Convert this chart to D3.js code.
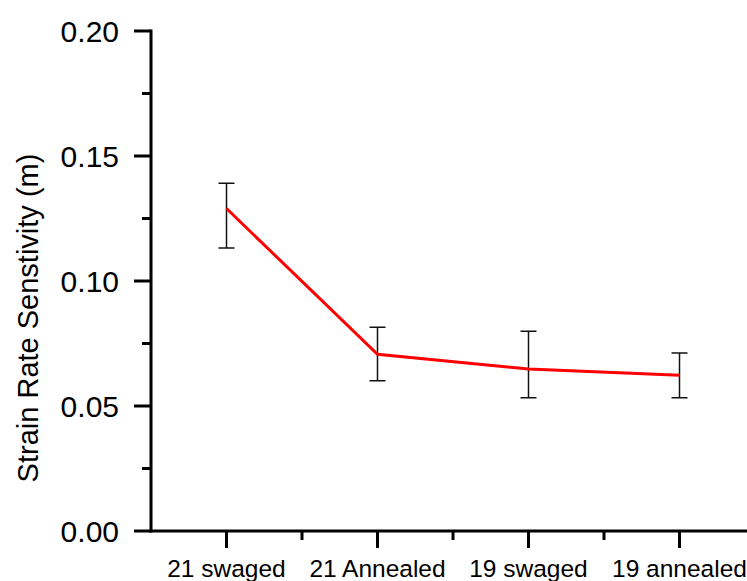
<!DOCTYPE html>
<meta charset="utf-8">
<style>
body { margin: 0; background: #fff; }
text { font-family: "Liberation Sans", Arial, sans-serif; fill: #000; }
</style>
<body>
<script src="https://d3js.org/d3.v7.min.js"></script>
<script>

var width = 747,
    height = 581;

// data
var samples = ["21 swaged", "21 Annealed", "19 swaged", "19 annealed"];
var mValues = [0.129, 0.0707, 0.0648, 0.0623];
var errTop = [0.1391, 0.0815, 0.0799, 0.0712];
var errBottom = [0.1132, 0.0601, 0.0533, 0.0533];
var yMajor = [0, 0.05, 0.10, 0.15, 0.20];
var yMinor = [0.025, 0.075, 0.125, 0.175];

var svg = d3.select("body").append("svg")
    .attr("width", width)
    .attr("height", height);

var x = d3.scaleLinear()
    .domain([0.5, 4.5])
    .range([151, 755]);

var y = d3.scaleLinear()
    .domain([0, 0.20])
    .range([531, 31]);

var xMajor = samples.map(function(d, i) { return i + 1; });
var xMinor = [1.5, 2.5, 3.5];

// y axis
var yAxis = svg.append("g").attr("transform", "translate(" + x(0.5) + ",0)");
yAxis.selectAll(".minor").data(yMinor).enter().append("line")
    .attr("x1", -9).attr("x2", 0)
    .attr("y1", function(d) { return y(d); }).attr("y2", function(d) { return y(d); })
    .attr("stroke", "#000").attr("stroke-width", 3);
yAxis.selectAll(".major").data(yMajor).enter().append("line")
    .attr("x1", -17).attr("x2", 0)
    .attr("y1", function(d) { return y(d); }).attr("y2", function(d) { return y(d); })
    .attr("stroke", "#000").attr("stroke-width", 3);
yAxis.selectAll("text").data(yMajor).enter().append("text")
    .attr("x", -32)
    .attr("y", function(d) { return y(d); })
    .attr("dy", "0.36em")
    .attr("text-anchor", "end")
    .style("font-size", "30px")
    .text(d3.format(".2f"));
yAxis.append("line")
    .attr("x1", 0).attr("x2", 0)
    .attr("y1", y(0.20) - 1.5).attr("y2", y(0) + 1.5)
    .attr("stroke", "#000").attr("stroke-width", 3);

// x axis
var xAxis = svg.append("g").attr("transform", "translate(0," + y(0) + ")");
xAxis.append("line")
    .attr("x1", x(0.5) - 1.5).attr("x2", width)
    .attr("stroke", "#000").attr("stroke-width", 3);
xAxis.selectAll(".minor").data(xMinor).enter().append("line")
    .attr("x1", function(d) { return x(d); }).attr("x2", function(d) { return x(d); })
    .attr("y1", 0).attr("y2", 9)
    .attr("stroke", "#000").attr("stroke-width", 3);
xAxis.selectAll(".major").data(xMajor).enter().append("line")
    .attr("x1", function(d) { return x(d); }).attr("x2", function(d) { return x(d); })
    .attr("y1", 0).attr("y2", 17)
    .attr("stroke", "#000").attr("stroke-width", 3);
xAxis.selectAll("text").data(samples).enter().append("text")
    .attr("x", function(d, i) { return x(i + 1); })
    .attr("y", 46)
    .attr("text-anchor", "middle")
    .style("font-size", "24.5px")
    .text(function(d) { return d; });

// axis title
svg.append("text")
    .attr("transform", "translate(38,318) rotate(-90)")
    .attr("text-anchor", "middle")
    .style("font-size", "29px")
    .text("Strain Rate Senstivity (m)");

// error bars
var bars = svg.append("g");
samples.forEach(function(s, i) {
  var cx = x(i + 1);
  bars.append("line")
      .attr("x1", cx).attr("x2", cx)
      .attr("y1", y(errTop[i])).attr("y2", y(errBottom[i]))
      .attr("stroke", "#111").attr("stroke-width", 1.5);
  [errTop[i], errBottom[i]].forEach(function(v) {
    bars.append("line")
        .attr("x1", cx - 8).attr("x2", cx + 8)
        .attr("y1", y(v)).attr("y2", y(v))
        .attr("stroke", "#111").attr("stroke-width", 1.5);
  });
});

// line
var line = d3.line()
    .x(function(d, i) { return x(i + 1); })
    .y(function(d) { return y(d); });

svg.append("path")
    .datum(mValues)
    .attr("fill", "none")
    .attr("stroke", "#ff0000")
    .attr("stroke-width", 3)
    .attr("d", line);

</script>
